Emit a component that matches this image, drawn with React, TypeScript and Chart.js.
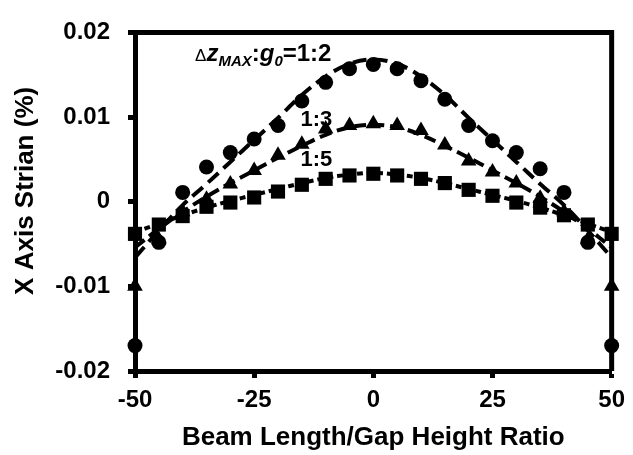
import React, { useEffect, useRef } from "react";
import { Chart, registerables } from "chart.js";

Chart.register(...registerables);

// ---------- data ----------
const xPositions = [-50, -45, -40, -35, -30, -25, -20, -15, -10, -5, 0, 5, 10, 15, 20, 25, 30, 35, 40, 45, 50];

// measured markers (X axis strain, %)
const ratio12Points = [-0.017, -0.0048, 0.0011, 0.0041, 0.0058, 0.0074, 0.009, 0.0119, 0.0141, 0.0157, 0.0162, 0.0157, 0.0143, 0.0121, 0.009, 0.0072, 0.0058, 0.0039, 0.0011, -0.0048, -0.017];
const ratio13Points = [-0.01, -0.0045, -0.0012, 0.0003, 0.0021, 0.0037, 0.0055, 0.0068, 0.0086, 0.009, 0.0092, 0.009, 0.0084, 0.0067, 0.0048, 0.0035, 0.0022, 0.0004, -0.0012, -0.0045, -0.01];
const ratio15Points = [-0.0038, -0.0027, -0.0017, -0.0006, -0.0001, 0.0005, 0.0012, 0.002, 0.0027, 0.0031, 0.0033, 0.0031, 0.0027, 0.0022, 0.0014, 0.0007, -0.0001, -0.0007, -0.0016, -0.0027, -0.0038];

// dashed fit curves
const ratio12Fit = [-0.0066, -0.0034, -0.0004, 0.0021, 0.0047, 0.0073, 0.0099, 0.0126, 0.0148, 0.0163, 0.0168, 0.0163, 0.0148, 0.0126, 0.0099, 0.0073, 0.0047, 0.0021, -0.0004, -0.0034, -0.0066];
const ratio13Fit = [-0.0054, -0.0032, -0.0012, 0.0006, 0.0022, 0.0037, 0.0052, 0.0066, 0.0079, 0.0088, 0.0091, 0.0088, 0.0079, 0.0066, 0.0052, 0.0037, 0.0022, 0.0006, -0.0012, -0.0032, -0.0054];
const ratio15Fit = [-0.0036, -0.0026, -0.0016, -0.0007, 0.0001, 0.0008, 0.0015, 0.0022, 0.0028, 0.0032, 0.0034, 0.0032, 0.0028, 0.0022, 0.0015, 0.0008, 0.0001, -0.0007, -0.0016, -0.0026, -0.0036];

const xTicks = [-50, -25, 0, 25, 50];
const yTicks = [-0.02, -0.01, 0, 0.01, 0.02];

const xTitle = "Beam Length/Gap Height Ratio";
const yTitle = "X Axis Strian (%)";

// series labels (text, anchor in data coordinates: left / baseline)
const mainLabelRuns = [
  { t: "\u0394", style: "normal", size: 17, dy: 0 },
  { t: "z", style: "italic bold", size: 24, dy: 0 },
  { t: "MAX", style: "italic bold", size: 15, dy: 5 },
  { t: ":", style: "bold", size: 24, dy: 0 },
  { t: "g", style: "italic bold", size: 24, dy: 0 },
  { t: "0", style: "italic bold", size: 15, dy: 5 },
  { t: "=1:2", style: "bold", size: 24, dy: 0 },
];
const mainLabelAnchor = { x: -37.4, y: 0.01664 };
const sideLabels = [
  { text: "1:3", x: -15.3, y: 0.009 },
  { text: "1:5", x: -15.3, y: 0.0042 },
];

const FONT = "'Liberation Sans', Arial, sans-serif";

const toXY = (ys: number[]) => xPositions.map((x, i) => ({ x, y: ys[i] }));

const framePlugin = {
  id: "frame",
  beforeDatasetsDraw(chart: any) {
    const { ctx, chartArea } = chart;
    ctx.save();
    ctx.strokeStyle = "#000";
    ctx.lineWidth = 5;
    ctx.beginPath();
    ctx.moveTo(chartArea.left, chartArea.top);
    ctx.lineTo(chartArea.right, chartArea.top);
    ctx.lineTo(chartArea.right, chartArea.bottom);
    ctx.stroke();
    ctx.restore();
  },
};

const labelPlugin = {
  id: "seriesLabels",
  afterDatasetsDraw(chart: any) {
    const { ctx, scales } = chart;
    const xs = scales.x;
    const ys = scales.y;
    ctx.save();
    ctx.fillStyle = "#000";
    ctx.textBaseline = "alphabetic";
    ctx.textAlign = "left";
    let px = xs.getPixelForValue(mainLabelAnchor.x);
    const py = ys.getPixelForValue(mainLabelAnchor.y);
    for (const r of mainLabelRuns) {
      ctx.font = `${r.style} ${r.size}px ${FONT}`;
      ctx.fillText(r.t, px, py + r.dy);
      px += ctx.measureText(r.t).width;
    }
    ctx.font = `bold 22px ${FONT}`;
    for (const l of sideLabels) {
      ctx.fillText(l.text, xs.getPixelForValue(l.x), ys.getPixelForValue(l.y));
    }
    ctx.restore();
  },
};

export default function App() {
  const canvasRef = useRef<HTMLCanvasElement | null>(null);

  useEffect(() => {
    if (!canvasRef.current) return;
    const markerBase = {
      showLine: false,
      borderColor: "#000",
      backgroundColor: "#000",
      pointBorderWidth: 0,
      clip: false as any,
    };
    const fitBase = {
      showLine: true,
      borderColor: "#000",
      backgroundColor: "#000",
      borderWidth: 4,
      pointRadius: 0,
      tension: 0.35,
      clip: false as any,
    };
    const chart = new Chart(canvasRef.current, {
      type: "scatter",
      data: {
        datasets: [
          { ...markerBase, label: "1:2", data: toXY(ratio12Points), pointStyle: "circle", pointRadius: 7.5 },
          { ...markerBase, label: "1:3", data: toXY(ratio13Points), pointStyle: "triangle", pointRadius: 9 },
          { ...markerBase, label: "1:5", data: toXY(ratio15Points), pointStyle: "rect", pointRadius: 10 },
          { ...fitBase, label: "fit 1:2", data: toXY(ratio12Fit), borderDash: [14, 7] },
          { ...fitBase, label: "fit 1:3", data: toXY(ratio13Fit), borderDash: [12, 6] },
          { ...fitBase, label: "fit 1:5", data: toXY(ratio15Fit), borderDash: [6, 4] },
        ] as any,
      },
      options: {
        responsive: false,
        animation: false,
        devicePixelRatio: 1,
        layout: { padding: { top: 20, right: 15, left: 0, bottom: 0 } },
        plugins: { legend: { display: false }, tooltip: { enabled: false } },
        scales: {
          x: {
            type: "linear",
            min: -50,
            max: 50,
            afterBuildTicks: (s: any) => {
              s.ticks = xTicks.map((v) => ({ value: v }));
            },
            afterFit: (s: any) => {
              s.height = 84;
            },
            ticks: {
              color: "#000",
              font: { family: FONT, size: 24, weight: "bold" },
              padding: 8,
              maxRotation: 0,
              callback: (v: any) => String(v),
            },
            grid: {
              display: true,
              drawOnChartArea: false,
              drawTicks: true,
              tickLength: 7,
              tickWidth: 5,
              tickColor: "#000",
              color: "#000",
            },
            border: { display: true, color: "#000", width: 5 },
            title: {
              display: true,
              text: xTitle,
              color: "#000",
              font: { family: FONT, size: 26, weight: "bold" },
              padding: { top: 0, bottom: 2 },
            },
          },
          y: {
            type: "linear",
            min: -0.02,
            max: 0.02,
            afterBuildTicks: (s: any) => {
              s.ticks = yTicks.map((v) => ({ value: v }));
            },
            afterFit: (s: any) => {
              s.width = 135;
            },
            ticks: {
              color: "#000",
              font: { family: FONT, size: 24, weight: "bold" },
              padding: 18,
              callback: (v: any) => (Math.abs(v) < 1e-9 ? "0" : Number(v).toFixed(2)),
            },
            grid: {
              display: true,
              drawOnChartArea: false,
              drawTicks: true,
              tickLength: 7,
              tickWidth: 5,
              tickColor: "#000",
              color: "#000",
            },
            border: { display: true, color: "#000", width: 5 },
            title: {
              display: true,
              text: "   " + yTitle,
              color: "#000",
              font: { family: FONT, size: 26, weight: "bold" },
              padding: { top: 10, bottom: 0 },
            },
          },
        },
      } as any,
      plugins: [framePlugin, labelPlugin],
    });
    return () => chart.destroy();
  }, []);

  return (
    <div style={{ position: "absolute", left: 0, top: 0, width: 633, height: 455, background: "#fff" }}>
      <canvas ref={canvasRef} width={633} height={455} />
    </div>
  );
}
